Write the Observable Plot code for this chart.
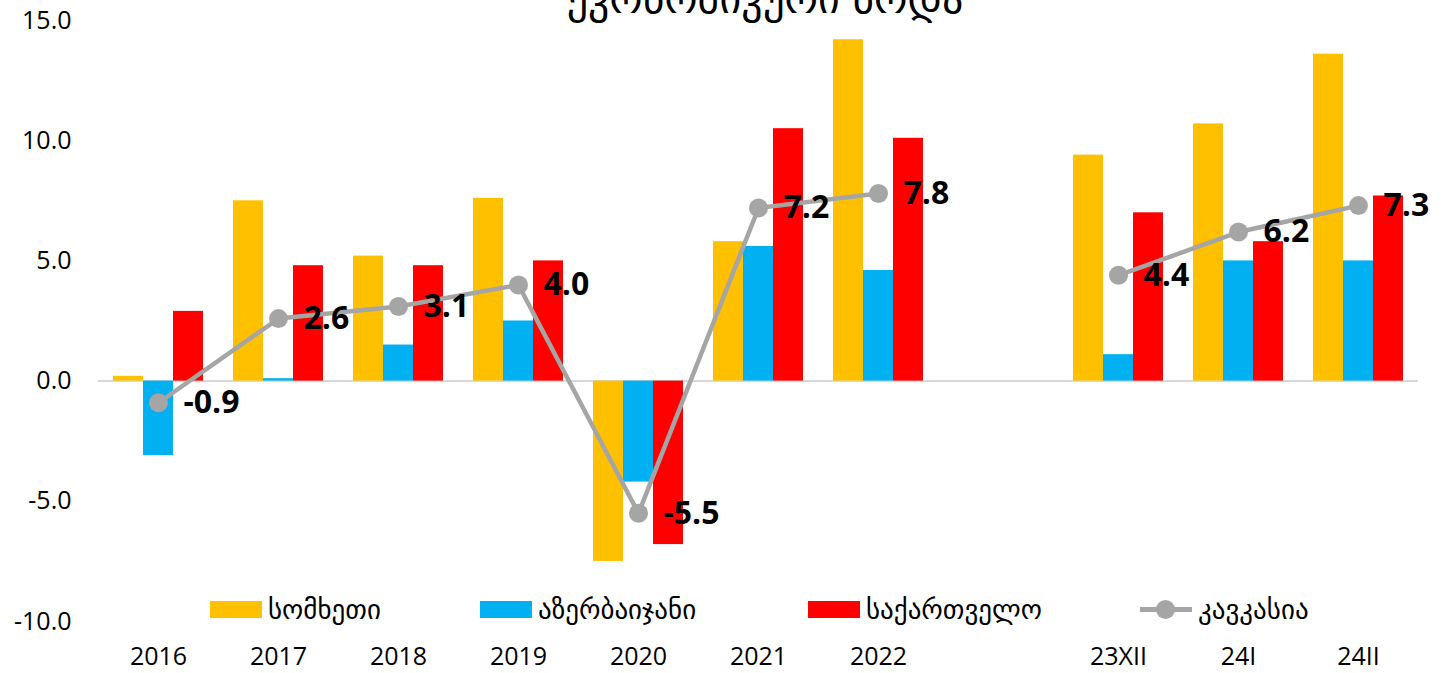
<!DOCTYPE html>
<html>
<head>
<meta charset="utf-8">
<script src="https://cdn.jsdelivr.net/npm/d3@7"></script>
<script src="https://cdn.jsdelivr.net/npm/@observablehq/plot@0.6"></script>
<style>
  html, body { margin: 0; padding: 0; background: #fff; }
  #wrap { position: relative; width: 1446px; height: 673px; overflow: hidden; font-family: "Open Sans", "DejaVu Sans", sans-serif; }
  #title { position: absolute; top: -24px; left: 0; width: 1530px; text-align: center; font-family: "DejaVu Sans", sans-serif; font-size: 42px; line-height: 46px; color: #000; white-space: nowrap; }
  #legend { position: absolute; top: 596px; left: 0; width: 1446px; height: 26px; }
  .item { position: absolute; top: 0; height: 26px; display: flex; align-items: center; font-family: "DejaVu Sans", sans-serif; font-size: 27px; color: #000; white-space: nowrap; }
  .sw { width: 52px; height: 17px; margin-right: 6px; }
  .ln { width: 52px; height: 20px; margin-right: 6px; position: relative; }
  .ln::before { content: ""; position: absolute; left: 0; right: 0; top: 8px; height: 5px; background: #A5A5A5; }
  .ln::after { content: ""; position: absolute; left: 16px; top: 1px; width: 19px; height: 19px; border-radius: 50%; background: #A5A5A5; }
  svg { position: absolute; top: 0; left: 0; }
</style>
</head>
<body>
<div id="wrap">
  <div id="chart"></div>
  <div id="title"></div>
  <div id="legend"></div>
</div>
<script>
const title = "ეკონომიკური ზრდა";
const categories = ["2016", "2017", "2018", "2019", "2020", "2021", "2022", "", "23XII", "24I", "24II"];
const armenia    = [0.2, 7.5, 5.2, 7.6, -7.5, 5.8, 14.2, null, 9.4, 10.7, 13.6];
const azerbaijan = [-3.1, 0.1, 1.5, 2.5, -4.2, 5.6, 4.6, null, 1.1, 5.0, 5.0];
const georgia    = [2.9, 4.8, 4.8, 5.0, -6.8, 10.5, 10.1, null, 7.0, 5.8, 7.7];
const caucasus   = [-0.9, 2.6, 3.1, 4.0, -5.5, 7.2, 7.8, null, 4.4, 6.2, 7.3];
const seriesNames = ["სომხეთი", "აზერბაიჯანი", "საქართველო", "კავკასია"];
const yTicks = [-10, -5, 0, 5, 10, 15];

const colors = ["#FFC000", "#00B0F0", "#FF0000"];
const lineColor = "#A5A5A5";

const W = 1446, H = 673;
const margin = {top: 20, right: 28, bottom: 52, left: 98};
const padInner = 0.25, padOuter = 0.125;
const xs = d3.scaleBand(categories, [margin.left, W - margin.right]).paddingInner(padInner).paddingOuter(padOuter);
const sub = xs.bandwidth() / 3;

const barSeries = [armenia, azerbaijan, georgia];
const barMarks = barSeries.map((vals, i) => {
  const rows = categories.map((c, j) => ({cat: c, v: vals[j]})).filter(d => d.v != null);
  return Plot.barY(rows, {
    x: "cat", y: "v", fill: colors[i],
    insetLeft: sub * i, insetRight: sub * (2 - i)
  });
});
const lineRows = categories.map((c, j) => ({cat: c, v: caucasus[j]}));
const dotRows = lineRows.filter(d => d.v != null);

const chart = Plot.plot({
  width: W, height: H,
  marginTop: margin.top, marginRight: margin.right, marginBottom: margin.bottom, marginLeft: margin.left,
  style: {fontFamily: "'Open Sans', 'DejaVu Sans', sans-serif", color: "#000", background: "transparent"},
  x: {domain: categories, paddingInner: padInner, paddingOuter: padOuter, label: null},
  y: {domain: [-10, 15], label: null},
  marks: [
    Plot.ruleY([0], {stroke: "#D9D9D9", strokeWidth: 2}),
    ...barMarks,
    Plot.line(lineRows, {x: "cat", y: "v", stroke: lineColor, strokeWidth: 4.5}),
    Plot.dot(dotRows, {x: "cat", y: "v", fill: lineColor, r: 9.5}),
    Plot.text(dotRows, {x: "cat", y: "v", text: d => d.v.toFixed(1), dx: 25, textAnchor: "start", fontSize: 32, fontWeight: "bold", fill: "#000"}),
    Plot.axisX({tickSize: 0, tickPadding: 26, fontSize: 25}),
    Plot.axisY({ticks: yTicks, tickFormat: d => d.toFixed(1), tickSize: 0, tickPadding: 27, fontSize: 25})
  ]
});
document.getElementById("chart").appendChild(chart);
document.getElementById("title").textContent = title;

const legendLefts = [210, 480, 808, 1140];
const legend = document.getElementById("legend");
seriesNames.forEach((name, i) => {
  const item = document.createElement("div");
  item.className = "item";
  item.style.left = legendLefts[i] + "px";
  const sw = document.createElement("div");
  if (i < 3) { sw.className = "sw"; sw.style.background = colors[i]; }
  else { sw.className = "ln"; }
  item.appendChild(sw);
  const t = document.createElement("span");
  t.textContent = name;
  item.appendChild(t);
  legend.appendChild(item);
});
</script>
</body>
</html>
